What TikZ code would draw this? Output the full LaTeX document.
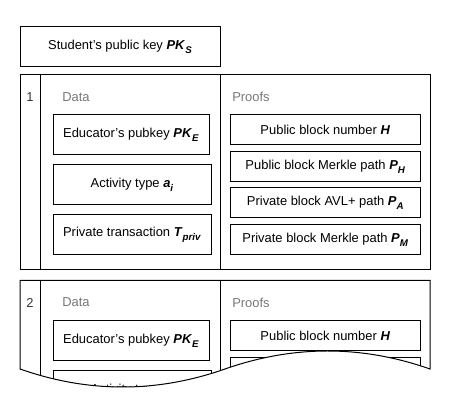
\documentclass[tikz,border=0pt]{standalone}
\usepackage{fontspec}
\setmainfont{Liberation Sans}
\newcommand\bi[1]{\textbf{\textit{#1}}}
\newcommand\bisub[2]{\bi{#1}\raisebox{-0.55ex}{\fontsize{7.3}{8}\selectfont\bi{#2}}}
\definecolor{numgray}{HTML}{333333}
\definecolor{labgray}{HTML}{777777}
\tikzset{
  box/.style={draw, line width=0.75pt, inner sep=0pt, align=center},
  studbox/.style={box, minimum width=150pt, minimum height=30pt},
  edubox/.style={box, minimum width=117pt, minimum height=30pt},
  databox/.style={box, minimum width=118.5pt, minimum height=30pt},
  proofbox/.style={box, minimum width=142.9pt, minimum height=22.5pt},
  numlab/.style={text=numgray, inner sep=0pt},
  seclab/.style={text=labgray, inner sep=0pt, anchor=west},
  frame/.style={line width=0.75pt},
}
\newcommand\blockcontent[2]{%
  \node[numlab] (num#1) at (30,97) {#2};
  \node[seclab] (data#1) at (62,97) {Data};
  \node[seclab] (proofs#1) at (232,97) {Proofs};
  \node[edubox] (edu#1) at (131,135) {Educator's pubkey \bisub{PK}{E}};
  \node[databox] (act#1) at (132,185) {Activity type \bisub{a}{i}};
  \node[databox] (tx#1) at (132,235) {Private transaction \bisub{T}{priv}};
  \node[proofbox] (pbn#1) at (325.3,130) {Public block number \bi{H}};
  \node[proofbox] (pmh#1) at (325.3,167) {Public block Merkle path \bisub{P}{H}};
  \node[proofbox] (avl#1) at (325.3,203) {Private block AVL+ path \bisub{P}{A}};
  \node[proofbox] (pmm#1) at (325.3,240) {Private block Merkle path \bisub{P}{M}};
}
\begin{document}
\begin{tikzpicture}[x=0.75pt,y=-0.75pt,font=\fontsize{9.7}{11}\selectfont]
\useasboundingbox (0,0) rectangle (451,420);
\node[studbox] (stud) at (120,47) {Student's public key \bisub{PK}{S}};
% block 1
\draw[frame] (20,75) rectangle (430,270);
\draw[frame] (40,75) -- (40,270);
\draw[frame] (220,75) -- (220,270);
\blockcontent{a}{1}
% block 2 (torn off by the wave)
\begin{scope}
  \clip (15,275) -- (435,275) -- (435,369) -- (430,369)
    .. controls (361.67,345) and (293.33,345) .. (225,369)
    .. controls (156.67,393) and (88.33,393) .. (20,369)
    -- (15,369) -- cycle;
  \begin{scope}[shift={(0,205.5)}]
    \draw[frame] (40,75) -- (40,270);
    \draw[frame] (220,75) -- (220,270);
    \blockcontent{b}{2}
  \end{scope}
\end{scope}
\draw[frame] (20,369) -- (20,280.5) -- (430,280.5) -- (430,369)
    .. controls (361.67,345) and (293.33,345) .. (225,369)
    .. controls (156.67,393) and (88.33,393) .. (20,369) -- cycle;
\end{tikzpicture}
\end{document}
